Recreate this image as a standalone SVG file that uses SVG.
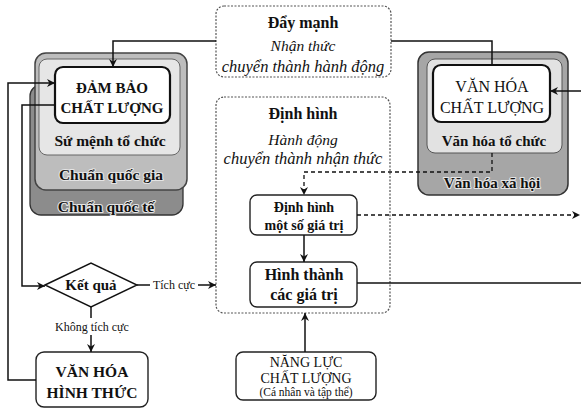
<svg xmlns="http://www.w3.org/2000/svg" width="581" height="410" viewBox="0 0 581 410">
<style>
text{font-family:"Liberation Serif","Times New Roman",serif;fill:#111;text-anchor:middle}
.b{font-weight:bold}
.i{font-style:italic}
.halo{paint-order:stroke;stroke:#e4e4e4;stroke-width:2.2px;stroke-linejoin:round}
.conn{fill:none;stroke:#111;stroke-width:1.5}
.dash{fill:none;stroke:#111;stroke-width:1.3;stroke-dasharray:4 3}
.frame{fill:#fff;stroke:#555;stroke-width:1.2;stroke-dasharray:2 1.5}
.wbox{fill:#fff;stroke:#111;stroke-width:2.2}
.sbox{fill:#fff;stroke:#222;stroke-width:1.4}
</style>
<defs>
<marker id="ah" viewBox="0 0 10 10" refX="10" refY="5" markerWidth="8" markerHeight="8" markerUnits="userSpaceOnUse" orient="auto">
<path d="M0,0 L10,5 L0,10 L3,5 Z" fill="#111"/>
</marker>
</defs>
<rect width="581" height="410" fill="#fff"/>

<g id="day-manh">
<rect class="frame" x="216" y="6" width="175" height="71" rx="8"/>
<text class="b" x="303" y="28" font-size="16">Đẩy mạnh</text>
<text class="i" x="303" y="51" font-size="15.5">Nhận thức</text>
<text class="i" x="303" y="72" font-size="16.5">chuyển thành hành động</text>
</g>

<g id="dinh-hinh">
<rect class="frame" x="216" y="97" width="174" height="216" rx="8"/>
<text class="b" x="303" y="119" font-size="16">Định hình</text>
<text class="i" x="303" y="145" font-size="15.5">Hành động</text>
<text class="i" x="303" y="164" font-size="16.5">chuyển thành nhận thức</text>
</g>

<g id="dinh-hinh-gia-tri">
<rect class="sbox" x="250" y="195" width="107" height="40" rx="7"/>
<text class="b" x="304" y="212" font-size="14">Định hình</text>
<text class="b" x="304" y="230" font-size="14">một số giá trị</text>
</g>

<g id="hinh-thanh">
<rect class="sbox" x="250" y="262" width="107" height="45" rx="7"/>
<text class="b" x="304" y="280" font-size="16">Hình thành</text>
<text class="b" x="304" y="300" font-size="16">các giá trị</text>
</g>

<g id="nang-luc">
<rect class="sbox" x="236" y="352" width="140" height="48" rx="7"/>
<text x="306" y="367" font-size="14">NĂNG LỰC</text>
<text x="306" y="383" font-size="14">CHẤT LƯỢNG</text>
<text x="306" y="396" font-size="11.5">(Cá nhân và tập thể)</text>
</g>

<g id="dam-bao">
<rect x="30" y="85" width="153" height="130" rx="11" fill="#8c8c8c" stroke="#333" stroke-width="1.3"/>
<rect x="35" y="53" width="152" height="137" rx="11" fill="#bdbdbd" stroke="#444" stroke-width="1.5"/>
<rect x="39" y="59" width="141" height="96" rx="8" fill="#e6e6e6" stroke="#666" stroke-width="1"/>
<rect class="wbox" x="55" y="67" width="115" height="56" rx="8"/>
<text class="b" x="112" y="93" font-size="15">ĐẢM BẢO</text>
<text class="b" x="112" y="113" font-size="15">CHẤT LƯỢNG</text>
<text class="b halo" x="110" y="146" font-size="15.5">Sứ mệnh tổ chức</text>
<text class="b halo" x="111" y="180" font-size="15.5">Chuẩn quốc gia</text>
<text class="b halo" x="106" y="212" font-size="15.5">Chuẩn quốc tế</text>
</g>

<g id="van-hoa-chat-luong">
<rect x="418" y="52" width="150" height="143" rx="11" fill="#a6a6a6" stroke="#333" stroke-width="1.5"/>
<rect x="427" y="59" width="135" height="94" rx="8" fill="#e2e2e2" stroke="#555" stroke-width="1"/>
<rect class="wbox" x="433" y="65" width="117" height="57" rx="8"/>
<text x="492" y="92" font-size="16">VĂN HÓA</text>
<text x="492" y="113" font-size="16">CHẤT LƯỢNG</text>
<text class="b halo" x="494" y="146" font-size="15">Văn hóa tổ chức</text>
<text class="b halo" x="492" y="188" font-size="15">Văn hóa xã hội</text>
</g>

<g id="ket-qua">
<polygon points="45,285 91,263 137,285 91,307" fill="#fff" stroke="#111" stroke-width="1.4"/>
<text class="b" x="91" y="290" font-size="15">Kết quả</text>
</g>

<g id="van-hoa-hinh-thuc">
<rect class="sbox" x="36" y="352" width="112" height="55" rx="8"/>
<text class="b" x="92" y="377" font-size="15.5">VĂN HÓA</text>
<text class="b" x="92" y="398" font-size="15.5">HÌNH THỨC</text>
</g>

<g id="connectors">
<path class="conn" d="M216,41 H113 V67" marker-end="url(#ah)"/>
<path class="conn" d="M391,41 H492 V65"/>
<path class="conn" d="M36,380 H8 V83 H55" marker-end="url(#ah)"/>
<path class="conn" d="M55,105 H22 V286 H45" marker-end="url(#ah)"/>
<path class="conn" d="M137,285 H150"/>
<text x="174" y="289" font-size="12">Tích cực</text>
<path class="conn" d="M198,285 H216" marker-end="url(#ah)"/>
<path class="conn" d="M91,307 V318"/>
<text x="92" y="331" font-size="12">Không tích cực</text>
<path class="conn" d="M91,335 V352" marker-end="url(#ah)"/>
<path class="dash" d="M492,153 V172 H304 V195" marker-end="url(#ah)"/>
<path class="dash" d="M357,215 H580" marker-end="url(#ah)"/>
<path class="conn" d="M304,235 V262" marker-end="url(#ah)"/>
<path class="conn" d="M357,283 H581"/>
<path class="conn" d="M581,91 H550" marker-end="url(#ah)"/>
<path class="conn" d="M305,352 V313" marker-end="url(#ah)"/>
</g>
</svg>
